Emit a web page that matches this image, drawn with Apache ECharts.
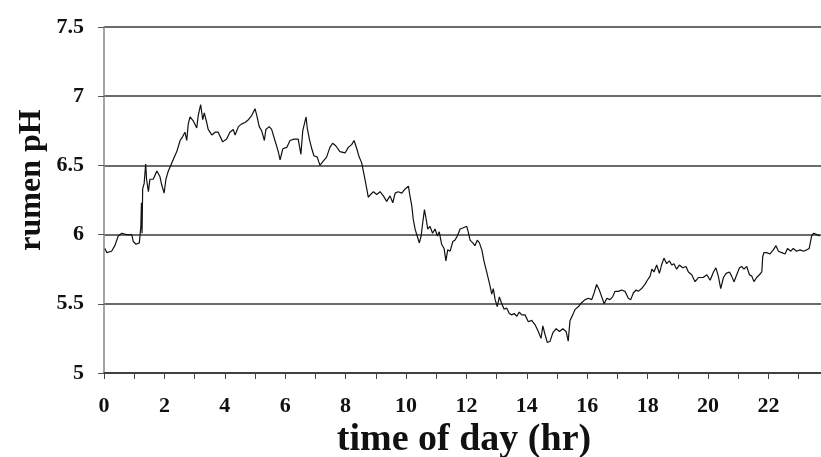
<!DOCTYPE html>
<html>
<head>
<meta charset="utf-8">
<script src="https://cdn.jsdelivr.net/npm/echarts@6/dist/echarts.min.js"></script>
<style>
html,body{margin:0;padding:0;background:#fff;}
#chart{width:821px;height:457px;}
</style>
</head>
<body>
<div id="chart"></div>
<script>
// time of day (hr)
const hours = [
  0.03,0.09,0.25,0.36,0.47,0.59,0.75,0.92,0.97,1.06,
  1.17,1.22,1.24,1.26,1.28,1.33,1.38,1.41,1.47,1.52,
  1.63,1.75,1.85,1.91,1.99,2.05,2.13,2.21,2.29,2.41,
  2.52,2.61,2.68,2.74,2.79,2.85,2.96,3.07,3.12,3.20,
  3.27,3.32,3.40,3.45,3.57,3.68,3.78,3.93,
  4.06,4.17,4.28,4.34,4.45,4.56,4.67,4.78,4.89,5.00,
  5.06,5.14,5.22,5.31,5.36,5.47,5.55,5.66,5.77,5.83,
  5.92,6.05,6.16,6.29,6.43,6.52,6.58,6.69,6.73,6.80,
  6.88,6.95,7.06,7.15,7.26,7.37,7.48,7.57,7.68,7.81,
  7.98,8.09,8.20,8.28,8.37,8.45,8.53,8.59,8.64,8.70,
  8.75,8.83,8.92,9.03,9.14,9.25,9.36,9.47,9.56,9.64,
  9.74,9.86,9.97,10.08,10.13,10.19,10.24,10.30,10.37,10.44,
  10.50,10.55,10.61,10.66,10.72,10.79,10.88,10.96,11.04,11.10,
  11.18,11.26,11.32,11.38,11.46,11.55,11.62,11.70,11.79,11.90,
  12.01,12.06,12.12,12.21,12.28,12.36,12.43,12.51,12.58,12.67,
  12.76,12.84,12.89,12.95,13.02,13.09,13.17,13.25,13.33,13.42,
  13.50,13.58,13.67,13.75,13.83,13.94,14.05,14.16,14.27,14.38,
  14.47,14.53,14.60,14.68,14.77,14.86,14.97,15.08,15.19,15.30,
  15.37,15.43,15.52,15.60,15.71,
  15.82,15.93,16.04,16.15,16.23,16.31,16.40,16.48,16.56,16.65,
  16.75,16.84,16.92,17.03,17.14,17.25,17.36,17.44,17.53,17.62,
  17.69,17.80,17.91,17.99,18.08,18.14,18.21,18.30,18.39,18.46,
  18.54,18.63,18.72,18.80,18.87,18.96,19.05,19.16,19.27,19.35,
  19.46,19.57,19.68,
  19.84,19.96,20.07,20.18,20.26,20.34,20.42,20.51,20.60,20.71,
  20.78,20.86,20.95,21.04,21.11,21.19,21.28,21.37,21.45,21.52,
  21.61,21.70,21.78,21.81,21.85,21.94,22.05,22.16,22.25,22.33,
  22.44,22.55,22.63,22.74,22.82,22.93,23.05,23.16,23.27,23.35,
  23.43,23.50,23.60,23.70
];
// rumen pH
const rumenPH = [
  5.90,5.87,5.88,5.92,5.99,6.01,6.00,6.00,5.95,5.93,
  5.94,6.06,6.23,6.01,6.33,6.37,6.51,6.40,6.31,6.40,
  6.40,6.46,6.42,6.36,6.30,6.40,6.46,6.50,6.54,6.60,
  6.68,6.71,6.74,6.68,6.80,6.85,6.82,6.77,6.86,6.94,
  6.83,6.88,6.81,6.76,6.72,6.74,6.74,6.67,
  6.69,6.74,6.76,6.72,6.78,6.80,6.81,6.83,6.86,6.91,
  6.86,6.78,6.75,6.68,6.76,6.78,6.76,6.68,6.60,6.54,
  6.62,6.63,6.68,6.69,6.69,6.58,6.75,6.85,6.77,6.69,
  6.62,6.57,6.56,6.50,6.53,6.56,6.63,6.66,6.64,6.60,
  6.59,6.63,6.65,6.68,6.62,6.56,6.52,6.52,6.40,6.33,
  6.27,6.29,6.31,6.29,6.31,6.28,6.24,6.28,6.23,6.30,
  6.31,6.30,6.33,6.35,6.28,6.21,6.11,6.04,5.99,5.94,
  5.99,6.08,6.18,6.12,6.04,6.06,6.01,6.04,5.99,6.02,
  5.93,5.90,5.81,5.89,5.88,5.95,5.96,5.99,6.04,6.05,
  6.06,6.02,5.96,5.94,5.92,5.96,5.94,5.89,5.81,5.73,
  5.65,5.57,5.61,5.53,5.48,5.55,5.50,5.46,5.47,5.43,
  5.42,5.43,5.41,5.44,5.42,5.42,5.37,5.38,5.35,5.30,
  5.25,5.34,5.28,5.22,5.23,5.29,5.32,5.30,5.32,5.30,
  5.23,5.38,5.42,5.46,5.48,
  5.51,5.53,5.54,5.53,5.58,5.64,5.60,5.55,5.50,5.54,
  5.53,5.55,5.59,5.59,5.60,5.59,5.54,5.53,5.58,5.60,
  5.59,5.61,5.64,5.67,5.70,5.75,5.73,5.78,5.72,5.78,
  5.83,5.79,5.81,5.78,5.79,5.75,5.78,5.76,5.77,5.73,
  5.71,5.66,5.69,
  5.69,5.71,5.67,5.73,5.76,5.70,5.61,5.69,5.72,5.73,
  5.70,5.66,5.71,5.76,5.77,5.75,5.77,5.71,5.70,5.66,
  5.69,5.71,5.73,5.84,5.87,5.87,5.86,5.89,5.92,5.88,
  5.87,5.86,5.90,5.88,5.90,5.88,5.89,5.88,5.89,5.90,
  5.99,6.01,6.00,5.99
];
const xTickLabels = [0,2,4,6,8,10,12,14,16,18,20,22];
const yTickLabels = [5,5.5,6,6.5,7,7.5];
const xTitle = 'time of day (hr)';
const yTitle = 'rumen pH';

const seriesData = hours.map((h, i) => [h, rumenPH[i]]);
const serif = '"Liberation Serif", "DejaVu Serif", serif';

const chart = echarts.init(document.getElementById('chart'), null, {renderer: 'canvas'});
chart.setOption({
  animation: false,
  backgroundColor: '#fff',
  grid: {left: 104, right: 0, top: 27, bottom: 84, containLabel: false},
  xAxis: {
    type: 'value',
    min: 0, max: 23.74, interval: 1,
    axisLine: {show: true, onZero: false, lineStyle: {color: '#333', width: 1.5}},
    axisTick: {show: true, length: 6, lineStyle: {color: '#444', width: 1}},
    splitLine: {show: false},
    axisLabel: {
      margin: 22,
      showMaxLabel: false,
      color: '#111', fontFamily: serif, fontWeight: 'bold', fontSize: 22,
      formatter: v => xTickLabels.includes(v) ? String(v) : ''
    }
  },
  yAxis: {
    type: 'value',
    min: 5, max: 7.5, interval: 0.5,
    axisLine: {show: true, lineStyle: {color: '#888', width: 1.5}},
    axisTick: {show: true, length: 6, lineStyle: {color: '#555', width: 1}},
    splitLine: {show: true, lineStyle: {color: '#3a3a3a', width: 1.6}},
    axisLabel: {
      margin: 20,
      color: '#111', fontFamily: serif, fontWeight: 'bold', fontSize: 22,
      formatter: v => yTickLabels.includes(v) ? String(v) : ''
    }
  },
  graphic: [
    {
      type: 'text', x: 32, y: 180, rotation: Math.PI / 2,
      style: {text: yTitle, font: 'bold 32px ' + serif, fill: '#111', align: 'center', verticalAlign: 'middle'}
    },
    {
      type: 'text', x: 464, y: 440,
      style: {text: xTitle, font: 'bold 38px ' + serif, fill: '#111', align: 'center', verticalAlign: 'middle'}
    }
  ],
  series: [{
    type: 'line',
    data: seriesData,
    showSymbol: false,
    symbol: 'none',
    lineStyle: {color: '#111', width: 1.2},
    z: 5
  }]
});
</script>
</body>
</html>
